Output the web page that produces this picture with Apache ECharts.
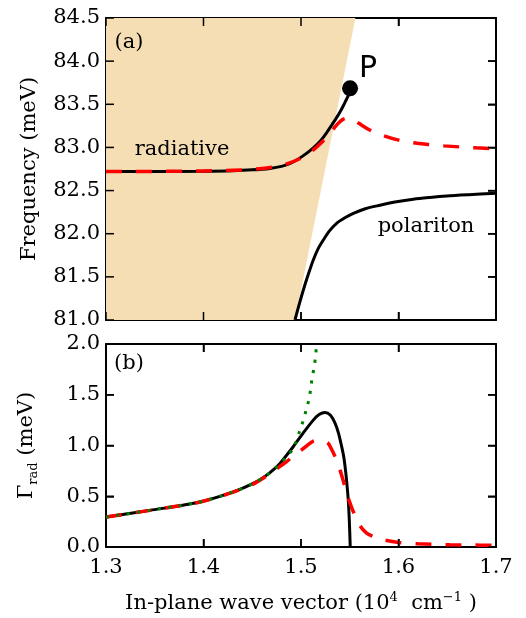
<!DOCTYPE html>
<html>
<head>
<meta charset="utf-8">
<style>
  html, body { margin: 0; padding: 0; background: #fff; }
  #chart { width: 526px; height: 618px; }
</style>
<script src="https://cdn.jsdelivr.net/npm/echarts@6/dist/echarts.min.js"></script>
</head>
<body>
<div id="chart"></div>
<script>
// (a) dispersion, (b) radiative width

// tick values
const kTicks = [1.3, 1.4, 1.5, 1.6, 1.7]
const freqTicks = [81.0, 81.5, 82.0, 82.5, 83.0, 83.5, 84.0, 84.5]
const gammaTicks = [0.0, 0.5, 1.0, 1.5, 2.0]

// light cone edge
const lightK = [1.4938, 1.5558]
const lightE = [81.0, 84.5]

// upper branch (black), ends at P
const upperK = [1.30, 1.35, 1.40, 1.43, 1.45, 1.468, 1.48, 1.489, 1.496, 1.5024, 1.509, 1.516, 1.521, 1.5262, 1.531, 1.5365, 1.541, 1.545, 1.5485, 1.5503]
const upperE = [82.72, 82.72, 82.724, 82.73, 82.74, 82.757, 82.78, 82.815, 82.857, 82.905, 82.96, 83.03, 83.09, 83.17, 83.25, 83.345, 83.43, 83.52, 83.60, 83.65]

// red dashed, panel (a)
const redTopK = [1.30, 1.40, 1.44, 1.46, 1.475, 1.487, 1.497, 1.505, 1.513, 1.52, 1.527, 1.534, 1.539, 1.543, 1.547, 1.551, 1.556, 1.562, 1.57, 1.581, 1.598, 1.6145, 1.63, 1.6467, 1.6795, 1.70]
const redTopE = [82.72, 82.727, 82.74, 82.755, 82.78, 82.815, 82.86, 82.91, 82.975, 83.045, 83.13, 83.225, 83.29, 83.325, 83.34, 83.335, 83.305, 83.26, 83.205, 83.15, 83.09, 83.055, 83.035, 83.018, 82.995, 82.985]

// lower (polariton) branch
const lowerK = [1.4938, 1.498, 1.5024, 1.5075, 1.5126, 1.5175, 1.5229, 1.529, 1.5365, 1.545, 1.5537, 1.566, 1.581, 1.598, 1.6152, 1.632, 1.6494, 1.672, 1.70]
const lowerE = [81.0, 81.175, 81.348, 81.53, 81.696, 81.825, 81.927, 82.03, 82.12, 82.185, 82.237, 82.29, 82.33, 82.37, 82.40, 82.42, 82.437, 82.452, 82.468]

const pointP = [1.5503, 83.685]

// panel (b)
const blackK = [1.30, 1.345, 1.3964, 1.4306, 1.451, 1.4648, 1.475, 1.4785, 1.492, 1.502, 1.5126, 1.5186, 1.5246, 1.530, 1.5349, 1.5385, 1.5417, 1.544, 1.546, 1.5485, 1.5496, 1.5505]
const blackG = [0.295, 0.361, 0.444, 0.543, 0.626, 0.708, 0.79, 0.824, 0.988, 1.12, 1.25, 1.305, 1.325, 1.30, 1.22, 1.12, 0.99, 0.88, 0.725, 0.46, 0.25, 0.0]

const redK = [1.30, 1.345, 1.3964, 1.4306, 1.451, 1.4648, 1.475, 1.485, 1.4955, 1.505, 1.512, 1.5178, 1.523, 1.528, 1.532, 1.5365, 1.540, 1.5434, 1.547, 1.550, 1.554, 1.5605, 1.567, 1.575, 1.5844, 1.60, 1.62, 1.6528, 1.6853, 1.70]
const redG = [0.295, 0.361, 0.444, 0.54, 0.62, 0.70, 0.77, 0.84, 0.92, 0.99, 1.04, 1.054, 1.045, 1.02, 0.95, 0.856, 0.76, 0.65, 0.53, 0.44, 0.34, 0.21, 0.14, 0.10, 0.071, 0.045, 0.032, 0.022, 0.018, 0.017]

const greenK = [1.30, 1.345, 1.3964, 1.4306, 1.451, 1.4648, 1.475, 1.485, 1.492, 1.499, 1.5024, 1.5058, 1.5085, 1.51, 1.5116, 1.5137, 1.515, 1.5163]
const greenG = [0.295, 0.361, 0.444, 0.543, 0.626, 0.708, 0.79, 0.89, 0.97, 1.153, 1.25, 1.368, 1.467, 1.566, 1.68, 1.78, 1.896, 2.0]

const zip = (a, b) => a.map((v, i) => [v, b[i]])
const first = (a) => a[0]
const last = (a) => a[a.length - 1]

const serif = 'DejaVu Serif'
const fs = 21

// panel geometry
const gridLeft = 106
const gridW = 390
const gridA = { top: 18, h: 302 }
const gridB = { top: 344, h: 203 }
const tickPx = 8

const axisBase = (extra) => Object.assign({
  type: 'value',
  axisLine: { show: true, lineStyle: { color: '#000', width: 2 } },
  axisTick: { show: true, inside: true, length: tickPx, lineStyle: { color: '#000', width: 1.5 } },
  splitLine: { show: false },
  axisLabel: { show: false },
}, extra)

const tickLabel = {
  show: true,
  color: '#000',
  fontFamily: serif,
  fontSize: fs,
  formatter: (v) => v.toFixed(1),
}

// inward ticks on all four sides, as short line series in data units
const tickLines = []
const addTicks = (idx, yTicks, plotH) => {
  const dk = (last(kTicks) - first(kTicks)) / gridW * tickPx
  const dv = (last(yTicks) - first(yTicks)) / plotH * tickPx
  const push = (pts) => tickLines.push({
    type: 'line', xAxisIndex: idx, yAxisIndex: idx, data: pts,
    symbol: 'none', silent: true, z: 5, clip: false,
    lineStyle: { color: '#000', width: 1.5 },
  })
  kTicks.forEach((k) => {
    push([[k, first(yTicks)], [k, first(yTicks) + dv]])
    push([[k, last(yTicks)], [k, last(yTicks) - dv]])
  })
  yTicks.forEach((v) => {
    push([[first(kTicks), v], [first(kTicks) + dk, v]])
    push([[last(kTicks), v], [last(kTicks) - dk, v]])
  })
}
addTicks(0, freqTicks, gridA.h)
addTicks(2, gammaTicks, gridB.h)

const chart = echarts.init(document.getElementById('chart'), null, { renderer: 'canvas' })

const option = {
  animation: false,
  grid: [
    { left: gridLeft, top: gridA.top, width: gridW, height: gridA.h },
    { left: gridLeft, top: gridB.top, width: gridW, height: gridB.h },
  ],
  xAxis: [
    axisBase({ gridIndex: 0, position: 'bottom', min: 1.3, max: 1.7, interval: 0.1 }),
    axisBase({ gridIndex: 0, position: 'top', min: 1.3, max: 1.7, interval: 0.1 }),
    axisBase({
      gridIndex: 1, position: 'bottom', min: 1.3, max: 1.7, interval: 0.1,
      axisLabel: Object.assign({}, tickLabel, { margin: 10 }),
      name: 'In-plane wave vector (10{sup|4}  cm{sup|−1} )',
      nameLocation: 'middle',
      nameGap: 44,
      nameTextStyle: {
        color: '#000', fontFamily: serif, fontSize: fs, lineHeight: 26,
        rich: { sup: { fontFamily: serif, fontSize: 13, lineHeight: 13, verticalAlign: 'top' } },
      },
    }),
    axisBase({
      gridIndex: 1, position: 'top', min: 1.3, max: 1.7, interval: 0.1,
      axisLine: { show: true, onZero: false, lineStyle: { color: '#000', width: 2 } },
    }),
  ],
  yAxis: [
    axisBase({
      gridIndex: 0, position: 'left', min: 81, max: 84.5, interval: 0.5,
      axisLabel: Object.assign({}, tickLabel, { margin: 6 }),
      name: 'Frequency (meV)',
      nameLocation: 'middle',
      nameGap: 66,
      nameTextStyle: { color: '#000', fontFamily: serif, fontSize: fs },
    }),
    axisBase({ gridIndex: 0, position: 'right', min: 81, max: 84.5, interval: 0.5 }),
    axisBase({
      gridIndex: 1, position: 'left', min: 0, max: 2, interval: 0.5,
      axisLabel: Object.assign({}, tickLabel, { margin: 6 }),
      name: '{g|Γ}{s|rad} (meV)',
      nameLocation: 'middle',
      nameGap: 66,
      nameTextStyle: {
        color: '#000', fontFamily: serif, fontSize: fs, lineHeight: 26,
        rich: {
          g: { fontFamily: serif, fontSize: fs, lineHeight: 26 },
          s: { fontFamily: serif, fontSize: 13, lineHeight: 13, verticalAlign: 'bottom' },
        },
      },
    }),
    axisBase({ gridIndex: 1, position: 'right', min: 0, max: 2, interval: 0.5 }),
  ],
  graphic: [
    { type: 'text', z: 100, x: 129, y: 43, style: { text: '(a)', font: `${fs}px "${serif}"`, fill: '#000', align: 'center', verticalAlign: 'middle' } },
    { type: 'text', z: 100, x: 182, y: 150, style: { text: 'radiative', font: `${fs}px "${serif}"`, fill: '#000', align: 'center', verticalAlign: 'middle' } },
    { type: 'text', z: 100, x: 426, y: 227, style: { text: 'polariton', font: `${fs}px "${serif}"`, fill: '#000', align: 'center', verticalAlign: 'middle' } },
    { type: 'text', z: 100, x: 368, y: 69, style: { text: 'P', font: '30px "DejaVu Sans"', fill: '#000', align: 'center', verticalAlign: 'middle' } },
    { type: 'text', z: 100, x: 129, y: 364, style: { text: '(b)', font: `${fs}px "${serif}"`, fill: '#000', align: 'center', verticalAlign: 'middle' } },
  ],
  series: [
    {
      type: 'custom',
      xAxisIndex: 0,
      yAxisIndex: 0,
      silent: true,
      z: 1,
      data: [[1.3, 81]],
      renderItem: (params, api) => {
        const pts = [
          api.coord([first(kTicks), lightE[1]]),
          api.coord([lightK[1], lightE[1]]),
          api.coord([lightK[0], lightE[0]]),
          api.coord([first(kTicks), lightE[0]]),
        ]
        return { type: 'polygon', shape: { points: pts }, style: { fill: '#F5DEB3' } }
      },
    },
    {
      type: 'line', xAxisIndex: 0, yAxisIndex: 0, showSymbol: false, smooth: 0.3,
      data: zip(upperK, upperE), lineStyle: { color: '#000', width: 3 },
    },
    {
      type: 'line', xAxisIndex: 0, yAxisIndex: 0, showSymbol: false, smooth: 0.3,
      data: zip(lowerK, lowerE), lineStyle: { color: '#000', width: 3 },
    },
    {
      type: 'line', xAxisIndex: 0, yAxisIndex: 0, showSymbol: false, smooth: 0.3,
      data: zip(redTopK, redTopE), lineStyle: { color: '#ff0000', width: 3.5, type: [16, 14] },
    },
    {
      type: 'scatter', xAxisIndex: 0, yAxisIndex: 0, symbolSize: 16,
      data: [pointP], itemStyle: { color: '#000', opacity: 1 },
    },
    {
      type: 'line', xAxisIndex: 2, yAxisIndex: 2, showSymbol: false, smooth: 0.3,
      data: zip(blackK, blackG), lineStyle: { color: '#000', width: 3 },
    },
    {
      type: 'line', xAxisIndex: 2, yAxisIndex: 2, showSymbol: false, smooth: 0.3,
      data: zip(redK, redG), lineStyle: { color: '#ff0000', width: 3.5, type: [16, 14] },
    },
    {
      type: 'line', xAxisIndex: 2, yAxisIndex: 2, showSymbol: false, smooth: 0.3,
      data: zip(greenK, greenG), lineStyle: { color: '#008000', width: 3, type: [3, 7.5] },
    },
  ].concat(tickLines),
}

chart.setOption(option)
</script>
</body>
</html>
